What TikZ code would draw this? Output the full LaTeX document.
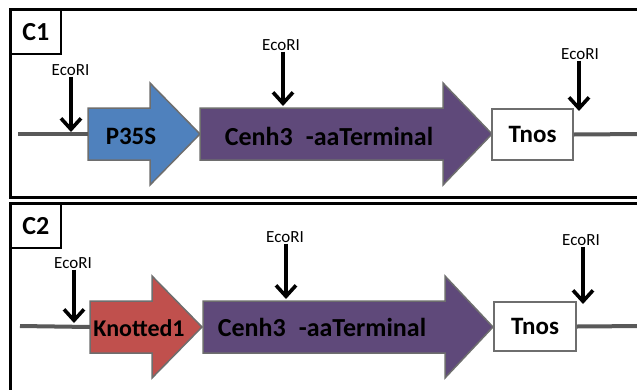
\documentclass[tikz,border=0pt]{standalone}
\usepackage{fontspec}
\setmainfont{Carlito}
\usetikzlibrary{arrows.meta}
\definecolor{promblue}{HTML}{4F81BD}
\definecolor{promred}{HTML}{C0504D}
\definecolor{cdsviolet}{HTML}{5F497A}
\definecolor{edgegray}{HTML}{6E6E6E}
\definecolor{wiregray}{HTML}{595959}

\tikzset{
  part/.style={draw=edgegray, line width=1.5pt, line join=miter},
  partlabel/.style={font=\bfseries\fontsize{25}{25}\selectfont, inner sep=0pt},
  cdslabel/.style={font=\bfseries\fontsize{26}{26}\selectfont, inner sep=0pt},
  site/.style={font=\fontsize{17}{17}\selectfont, inner sep=1pt},
  cut/.style={-{Straight Barb[length=11pt,width=20pt]}, line width=3.6pt},
  wire/.style={draw=wiregray, line width=4pt},
  frame/.style={draw=black, line width=3pt},
  tag/.style={draw, line width=1.5pt, font=\bfseries\fontsize{26}{26}\selectfont,
              minimum width=50pt, minimum height=44pt, anchor=north west, inner sep=0pt}
}

% block arrow: #1 name, #2 start x, #3 head base x, #4 tip x, #5 centre y, #6 fill
\newcommand\genearrow[6]{%
  \draw[part, fill=#6] (#2,#5-26) -- (#3,#5-26) -- (#3,#5-51) -- (#4,#5)
       -- (#3,#5+51) -- (#3,#5+26) -- (#2,#5+26) -- cycle;
  \coordinate (#1-in) at (#2,#5);
  \coordinate (#1-tip) at (#4,#5);
}
\newcommand\cenhlabel{Cenh3\hspace{13pt}-aaTerminal}

\begin{document}
\begin{tikzpicture}[x=1pt, y=-1pt]
  \clip (0,0) rectangle (637,389);
  \fill[white] (0,0) rectangle (637,389);

  % ---------------- construct C1 ----------------
  \draw[frame] (10,9) rectangle (650,197);
  \node[tag] (c1) at (10,9) {C1};

  \coordinate (c1l) at (18,134);
  \coordinate (c1r) at (645,134);
  \genearrow{pA}{88}{150}{200}{134}{promblue}
  \genearrow{cA}{200}{443}{492}{134}{cdsviolet}
  \draw[wire] (c1l) -- (pA-in);
  \node[part, fill=white, minimum width=81pt, minimum height=51pt, inner sep=0pt,
        partlabel] (tA) at (532.5,134.5) {Tnos};
  \draw[wire] (tA.east) -- (c1r);
  \node[partlabel] (pAt) at (131,136) {P35S};
  \node[cdslabel] (cAt) at (329,136) {\cenhlabel};

  \node[site] (e1) at (70.5,70) {EcoRI};
  \coordinate (e1t) at (71,132);
  \draw[cut] (e1.south -| e1t) -- (e1t);
  \node[site] (e2) at (281,45) {EcoRI};
  \coordinate (e2t) at (283,106);
  \draw[cut] (e2.south -| e2t) -- (e2t);
  \node[site] (e3) at (580,54) {EcoRI};
  \coordinate (e3t) at (579,111);
  \draw[cut] (e3.south -| e3t) -- (e3t);

  % ---------------- construct C2 ----------------
  \draw[frame] (10,203) rectangle (650,400);
  \node[tag] (c2) at (10,203) {C2};

  \coordinate (c2l) at (20,326);
  \coordinate (c2r) at (645,326);
  \genearrow{pB}{90}{152}{202}{327}{promred}
  \genearrow{cB}{203}{445}{493}{327}{cdsviolet}
  \draw[wire] (c2l) -- (pB-in);
  \node[part, fill=white, minimum width=82pt, minimum height=49pt, inner sep=0pt,
        partlabel] (tB) at (535,326.5) {Tnos};
  \draw[wire] (tB.east) -- (c2r);
  \node[partlabel, font=\bfseries\fontsize{24}{24}\selectfont] (pBt) at (139,328) {Knotted1};
  \node[cdslabel] (cBt) at (322,327) {\cenhlabel};

  \node[site] (f1) at (73,263) {EcoRI};
  \coordinate (f1t) at (74,323);
  \draw[cut] (f1.south -| f1t) -- (f1t);
  \node[site] (f2) at (285,237) {EcoRI};
  \coordinate (f2t) at (286,299);
  \draw[cut] (f2.south -| f2t) -- (f2t);
  \node[site] (f3) at (581,240) {EcoRI};
  \coordinate (f3t) at (583,304);
  \draw[cut] (f3.south -| f3t) -- (f3t);
\end{tikzpicture}
\end{document}
